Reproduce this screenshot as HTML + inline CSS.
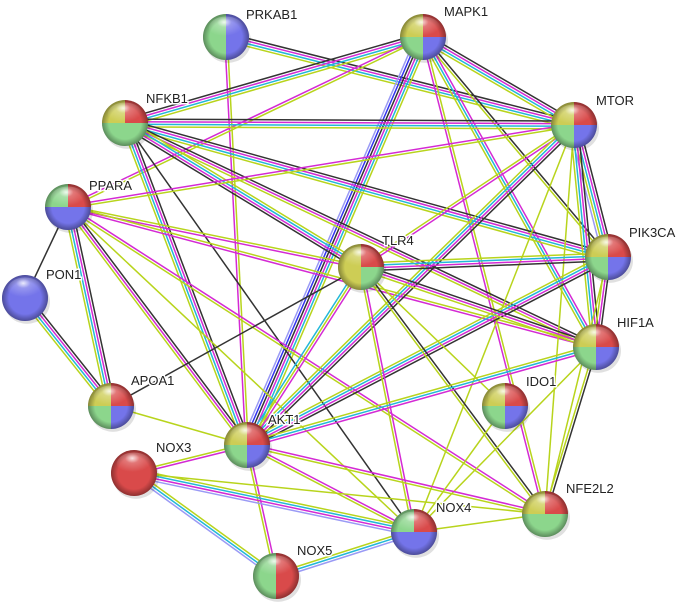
<!DOCTYPE html>
<html><head><meta charset="utf-8"><style>
html,body{margin:0;padding:0;background:#fff;}
svg{display:block;}
text{font-family:"Liberation Sans",sans-serif;font-size:13px;fill:#222;stroke:#fff;stroke-width:3px;paint-order:stroke;}
</style></head><body>
<svg id="s" width="685" height="607" viewBox="0 0 685 607" xmlns="http://www.w3.org/2000/svg">
<defs>
<radialGradient id="hl" cx="0.45" cy="0.25" r="0.6">
<stop offset="0" stop-color="#fff" stop-opacity="0.85"/>
<stop offset="0.35" stop-color="#fff" stop-opacity="0.25"/>
<stop offset="1" stop-color="#fff" stop-opacity="0"/>
</radialGradient>
<radialGradient id="sh" cx="0.5" cy="0.5" r="0.5">
<stop offset="0.7" stop-color="#000" stop-opacity="0"/>
<stop offset="1" stop-color="#000" stop-opacity="0.35"/>
</radialGradient>
</defs>
<g id="edges"></g>
<g id="nodes"></g>
<g id="labels">
<text x="246" y="19">PRKAB1</text>
<text x="444" y="16">MAPK1</text>
<text x="146" y="103">NFKB1</text>
<text x="596" y="105">MTOR</text>
<text x="89" y="190">PPARA</text>
<text x="629" y="237">PIK3CA</text>
<text x="382" y="245">TLR4</text>
<text x="46" y="279">PON1</text>
<text x="617" y="327">HIF1A</text>
<text x="131" y="385">APOA1</text>
<text x="526" y="386">IDO1</text>
<text x="268" y="424">AKT1</text>
<text x="156" y="452">NOX3</text>
<text x="566" y="493">NFE2L2</text>
<text x="436" y="512">NOX4</text>
<text x="297" y="555">NOX5</text>
</g>
</svg>
<script>
var N={PRKAB1:[226,37,'gbbg'],MAPK1:[423,37,'yrbg'],NFKB1:[125,123,'yrgg'],MTOR:[574,125,'yrbg'],
PPARA:[68,207,'grbb'],PIK3CA:[608,257,'yrbg'],TLR4:[361,267,'yrgy'],PON1:[25,298,'bbbb'],
HIF1A:[596,347,'yrbg'],APOA1:[111,406,'yrbg'],IDO1:[505,406,'yrbg'],AKT1:[247,445,'yrbg'],
NOX3:[134,473,'rrrr'],NFE2L2:[545,514,'yrgg'],NOX4:[414,532,'grbb'],NOX5:[276,576,'grrg']};
var C={k:'#333',m:'#d42ad4',y:'#b8d41c',c:'#22b8d8',b:'#3333ee',l:'#9a9af5'};
var E=[['PRKAB1','MTOR','kmcy'],['PRKAB1','AKT1','ym'],['MAPK1','NFKB1','ycmk'],['MAPK1','PPARA','ym'],
['MAPK1','MTOR','kmcy'],['MAPK1','PIK3CA','ky'],['MAPK1','HIF1A','mcy'],['MAPK1','AKT1','ycmkbl'],
['MAPK1','NFE2L2','ym'],['NFKB1','MTOR','kmcy'],['NFKB1','PIK3CA','kmcy'],['NFKB1','HIF1A','kmy'],
['NFKB1','TLR4','ycmk'],['NFKB1','AKT1','kmcy'],['NFKB1','NOX4','k'],['PPARA','MTOR','my'],
['PPARA','TLR4','ym'],['PPARA','HIF1A','ym'],['PPARA','PON1','k'],['PPARA','APOA1','kmcy'],
['PPARA','AKT1','kmy'],['PPARA','NFE2L2','my'],['PPARA','NOX4','y'],['MTOR','TLR4','my'],
['MTOR','AKT1','kmcy'],['MTOR','PIK3CA','kmcyl'],['MTOR','HIF1A','kmcy'],['MTOR','NFE2L2','y'],
['MTOR','NOX4','y'],['PIK3CA','TLR4','kmcy'],['PIK3CA','AKT1','kmcy'],['PIK3CA','HIF1A','kmy'],
['PIK3CA','NFE2L2','y'],['TLR4','HIF1A','kmy'],['TLR4','APOA1','k'],['TLR4','AKT1','myc'],
['TLR4','NOX4','my'],['TLR4','NFE2L2','ky'],['TLR4','IDO1','y'],['HIF1A','AKT1','mcy'],
['HIF1A','NFE2L2','ky'],['HIF1A','NOX4','y'],['PON1','APOA1','kmcy'],['APOA1','AKT1','y'],
['AKT1','NOX3','my'],['AKT1','NOX4','my'],['AKT1','NFE2L2','my'],['AKT1','NOX5','my'],
['NOX3','NOX4','ycml'],['NOX3','NOX5','ycl'],['NOX3','NFE2L2','y'],['NOX5','NOX4','ycl'],
['NOX4','NFE2L2','y'],['IDO1','NOX4','y']];
var NS='http://www.w3.org/2000/svg';
function el(t,a,p){var e=document.createElementNS(NS,t);for(var k in a)e.setAttribute(k,a[k]);p.appendChild(e);return e;}
var ge=document.getElementById('edges');
E.forEach(function(e){var a=N[e[0]],b=N[e[1]],dx=b[0]-a[0],dy=b[1]-a[1],L=Math.hypot(dx,dy),px=-dy/L,py=dx/L,n=e[2].length;
for(var i=0;i<n;i++){var o=(i-(n-1)/2)*2.6;
el('line',{x1:a[0]+px*o,y1:a[1]+py*o,x2:b[0]+px*o,y2:b[1]+py*o,stroke:C[e[2][i]],'stroke-width':1.5},ge);}});
var Q={r:'#d94a4a',g:'#8cd68c',b:'#7474ea',y:'#cdcd55'};
var gn=document.getElementById('nodes'),R=23;
for(var k in N){var x=N[k][0],y=N[k][1],q=N[k][2];
el('ellipse',{cx:x+2,cy:y+4,rx:R,ry:R*0.95,fill:'#000',opacity:0.12},gn);
var pts=[[x,y-R,x-R,y,0],[x+R,y,x,y-R,0],[x,y+R,x+R,y,0],[x-R,y,x,y+R,0]];
// quadrants: TL, TR, BR, BL
var d=['M'+x+','+y+' L'+x+','+(y-R)+' A'+R+','+R+' 0 0 0 '+(x-R)+','+y+' Z',
'M'+x+','+y+' L'+(x+R)+','+y+' A'+R+','+R+' 0 0 0 '+x+','+(y-R)+' Z',
'M'+x+','+y+' L'+x+','+(y+R)+' A'+R+','+R+' 0 0 0 '+(x+R)+','+y+' Z',
'M'+x+','+y+' L'+(x-R)+','+y+' A'+R+','+R+' 0 0 0 '+x+','+(y+R)+' Z'];
for(var i=0;i<4;i++)el('path',{d:d[i],fill:Q[q[i]]},gn);
el('circle',{cx:x,cy:y,r:R,fill:'url(#sh)'},gn);
el('ellipse',{cx:x,cy:y-9,rx:R*0.75,ry:R*0.5,fill:'url(#hl)'},gn);}
</script>
</body></html>
